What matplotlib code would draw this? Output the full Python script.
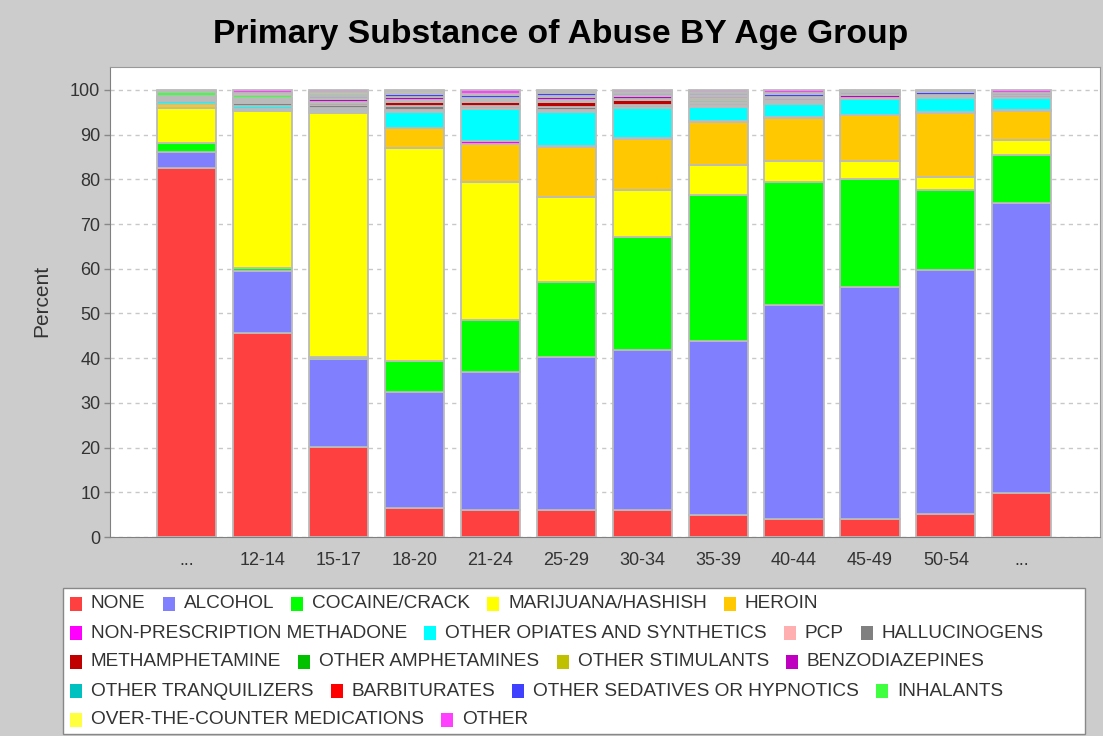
import matplotlib
matplotlib.use("Agg")
import matplotlib.pyplot as plt
from matplotlib.patches import Rectangle
import numpy as np

plt.rcParams['font.family'] = ['Liberation Sans', 'DejaVu Sans']

age_groups = ["...", "12-14", "15-17", "18-20", "21-24", "25-29", "30-34",
              "35-39", "40-44", "45-49", "50-54", "..."]

substances = ["NONE", "ALCOHOL", "COCAINE/CRACK", "MARIJUANA/HASHISH", "HEROIN",
              "NON-PRESCRIPTION METHADONE", "OTHER OPIATES AND SYNTHETICS", "PCP",
              "HALLUCINOGENS", "METHAMPHETAMINE", "OTHER AMPHETAMINES",
              "OTHER STIMULANTS", "BENZODIAZEPINES", "OTHER TRANQUILIZERS",
              "BARBITURATES", "OTHER SEDATIVES OR HYPNOTICS", "INHALANTS",
              "OVER-THE-COUNTER MEDICATIONS", "OTHER"]

colors = ["#FF4040", "#8080FF", "#00FF00", "#FFFF00", "#FFC800",
          "#FF00FF", "#00FFFF", "#FFAFAF", "#808080", "#C00000",
          "#00C000", "#C0C000", "#C000C0", "#00C0C0", "#FF0000",
          "#4040FF", "#40FF40", "#FFFF40", "#FF40FF"]

# percent of admissions per age group
none_pct = [82.5, 45.6, 20.1, 6.5, 6.0, 6.0, 6.0, 4.9, 4.0, 4.0, 5.1, 9.8]
alcohol = [3.6, 13.9, 19.7, 25.9, 30.9, 34.3, 35.8, 39.0, 47.9, 51.9, 54.6, 65.0]
cocaine = [2.0, 0.7, 0.5, 7.0, 11.6, 16.7, 25.3, 32.6, 27.5, 24.2, 17.9, 10.7]
marijuana = [7.9, 35.1, 54.6, 47.6, 30.8, 19.1, 10.5, 6.7, 4.7, 4.0, 2.9, 3.2]
heroin = [0.9, 0.3, 0.4, 4.5, 8.6, 11.1, 11.5, 9.6, 9.7, 10.3, 14.4, 6.6]
methadone = [0.05, 0.05, 0.05, 0.05, 0.7, 0.15, 0.2, 0.2, 0.1, 0.1, 0.1, 0.3]
opiates = [0.6, 0.7, 0.35, 3.55, 7.1, 7.8, 6.7, 3.2, 3.0, 3.4, 3.1, 2.6]
pcp = [0.1, 0.1, 0.3, 0.4, 0.3, 0.4, 0.2, 0.4, 0.15, 0.1, 0.05, 0.05]
hallucinogens = [0.2, 0.7, 0.7, 0.8, 0.5, 0.7, 0.5, 0.4, 0.3, 0.1, 0.1, 0.1]
meth = [0.15, 0.2, 0.3, 1.0, 0.9, 1.0, 1.0, 0.4, 0.2, 0.05, 0.05, 0.05]
amphetamines = [0.1, 0.1, 0.3, 0.3, 0.2, 0.3, 0.2, 0.4, 0.15, 0.1, 0.1, 0.05]
stimulants = [0.05, 0.05, 0.1, 0.05, 0.05, 0.1, 0.05, 0.3, 0.05, 0.05, 0.05, 0.05]
benzos = [0.2, 0.3, 0.5, 0.7, 0.4, 0.7, 0.7, 0.5, 0.4, 0.6, 0.3, 0.3]
tranquilizers = [0.1, 0.1, 0.2, 0.1, 0.1, 0.15, 0.15, 0.15, 0.15, 0.1, 0.1, 0.1]
barbiturates = [0.05, 0.05, 0.1, 0.05, 0.05, 0.05, 0.05, 0.05, 0.05, 0.05, 0.05, 0.05]
sedatives = [0.15, 0.15, 0.5, 0.6, 0.6, 0.8, 0.5, 0.55, 0.8, 0.5, 0.6, 0.3]
inhalants = [0.9, 0.8, 0.4, 0.3, 0.2, 0.15, 0.1, 0.1, 0.1, 0.05, 0.05, 0.05]
otc = [0.15, 0.5, 0.5, 0.3, 0.2, 0.2, 0.15, 0.15, 0.15, 0.1, 0.15, 0.1]
other = [0.3, 0.6, 0.4, 0.3, 0.8, 0.3, 0.4, 0.4, 0.6, 0.3, 0.3, 0.6]

series = [none_pct, alcohol, cocaine, marijuana, heroin, methadone, opiates, pcp,
          hallucinogens, meth, amphetamines, stimulants, benzos, tranquilizers,
          barbiturates, sedatives, inhalants, otc, other]

# legend rows as laid out in the original
legend_rows = [[0, 1, 2, 3, 4], [5, 6, 7, 8], [9, 10, 11, 12], [13, 14, 15, 16], [17, 18]]

W, H = 1103, 736
fig = plt.figure(figsize=(W / 100, H / 100), dpi=100, facecolor="#CCCCCC")
ax = fig.add_axes([110 / W, 1 - 537 / H, 990 / W, (537 - 66.7) / H])
ax.set_facecolor("white")

x = np.arange(len(age_groups))
bottom = np.zeros(len(age_groups))
for vals, c in zip(series, colors):
    ax.bar(x, vals, bottom=bottom, width=0.78, color=c, edgecolor="#BBBBBB",
           linewidth=1.3, zorder=3)
    bottom += np.array(vals)

ax.set_xlim(-1.01, 12.03)
ax.set_ylim(0, 105.2)
ax.set_yticks(range(0, 101, 10))
ax.set_xticks(x)
ax.set_xticklabels(age_groups, fontsize=13, color="#333333")
ax.tick_params(axis="x", length=0, pad=11)
ax.tick_params(axis="y", length=4, width=1, color="#888888", labelsize=13,
               labelcolor="#333333", pad=3)
ax.yaxis.grid(True, color="#C8C8C8", linestyle=(0, (3, 3)), linewidth=1, zorder=0)
for s in ax.spines.values():
    s.set_color("#999999")
ax.spines["left"].set_color("#808080")
ax.spines["bottom"].set_color("#808080")

fig.text(561 / W, 1 - 35 / H, "Primary Substance of Abuse BY Age Group",
         fontsize=24.2, fontweight="bold", ha="center", va="center")
fig.text(42 / W, 1 - 301 / H, "Percent", rotation=90, fontsize=15,
         ha="center", va="center", color="#333333")

# legend drawn as a flowing box, like the original
lax = fig.add_axes([0, 0, 1, 1])
lax.set_xlim(0, W)
lax.set_ylim(H, 0)
lax.axis("off")
lax.add_patch(Rectangle((63, 588), 1022, 146, facecolor="white",
                        edgecolor="#888888", linewidth=1))
renderer = fig.canvas.get_renderer()
for r, row in enumerate(legend_rows):
    y = 604 + 29 * r
    xpos = 70
    for k in row:
        lax.add_patch(Rectangle((xpos, y - 7), 12, 14, facecolor=colors[k],
                                edgecolor="none"))
        t = lax.text(xpos + 21, y, substances[k], fontsize=13.7, va="center",
                     ha="left", color="#333333")
        bb = t.get_window_extent(renderer)
        xpos = xpos + 21 + bb.width + 17

fig.savefig("out.png", dpi=100, facecolor=fig.get_facecolor())
